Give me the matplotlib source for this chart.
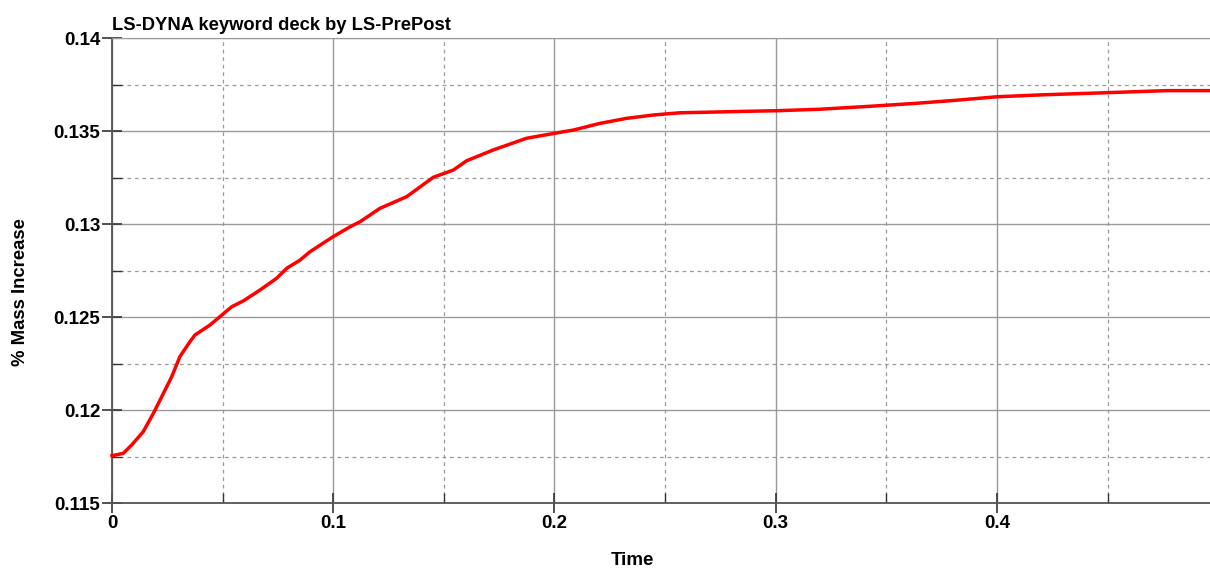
import matplotlib.pyplot as plt
from matplotlib.ticker import MultipleLocator, FuncFormatter

# values
time = [0.0, 0.0051, 0.0089, 0.0141, 0.0187, 0.0225, 0.0270, 0.0307, 0.0352, 0.0375,
        0.0443, 0.0488, 0.0541, 0.0593, 0.0669, 0.0744, 0.0790, 0.0850, 0.0895, 0.1000,
        0.1076, 0.1121, 0.1211, 0.1332, 0.1452, 0.1543, 0.1603, 0.1723, 0.1874, 0.2002,
        0.2085, 0.2206, 0.2326, 0.2447, 0.2567, 0.2688, 0.2869, 0.3004, 0.3200, 0.3441,
        0.3637, 0.3833, 0.3999, 0.4194, 0.4496, 0.4767, 0.4963]
mass_increase = [0.11754, 0.11767, 0.11812, 0.11883, 0.11982, 0.12072, 0.12179, 0.12287,
                 0.12367, 0.12403, 0.12457, 0.12502, 0.12555, 0.12586, 0.12645, 0.12708,
                 0.12762, 0.12806, 0.12851, 0.12932, 0.12985, 0.13012, 0.13084, 0.13147,
                 0.13251, 0.13290, 0.13340, 0.13398, 0.13461, 0.13488, 0.13505, 0.13541,
                 0.13568, 0.13586, 0.13598, 0.13601, 0.13606, 0.13609, 0.13617, 0.13634,
                 0.13649, 0.13667, 0.13684, 0.13694, 0.13706, 0.13717, 0.13717]

title = 'LS-DYNA keyword deck by LS-PrePost'
xlabel = 'Time'
ylabel = '% Mass Increase'

plt.rcParams['font.family'] = ['Liberation Sans', 'DejaVu Sans']
plt.rcParams['font.weight'] = 'bold'

fig = plt.figure(figsize=(12.1, 5.68), dpi=100)
ax = fig.add_axes([112 / 1210, 1 - 503 / 568, 1 - 112 / 1210, (503 - 38) / 568])

ax.plot(time, mass_increase, color='#ff0000', linewidth=2.5, zorder=3, clip_on=False)

ax.set_xlim(0, 0.4963)
ax.set_ylim(0.115, 0.14)

ax.xaxis.set_major_locator(MultipleLocator(0.1))
ax.xaxis.set_minor_locator(MultipleLocator(0.05))
ax.yaxis.set_major_locator(MultipleLocator(0.005))
ax.yaxis.set_minor_locator(MultipleLocator(0.0025))
fmt = FuncFormatter(lambda v, p: '%g' % round(v, 4))
ax.xaxis.set_major_formatter(fmt)
ax.yaxis.set_major_formatter(fmt)

ax.grid(True, which='major', color='#9a9a9a', linestyle='-', linewidth=1.0)
ax.grid(True, which='minor', color='#9a9a9a', linestyle=(0, (3, 3)), linewidth=0.9)

ax.tick_params(which='major', direction='inout', length=15, width=1.2, color='#333333',
               labelsize=13.5, pad=1)
ax.tick_params(which='minor', direction='in', length=7, width=1.0, color='#333333')
for lab in ax.get_xticklabels() + ax.get_yticklabels():
    lab.set_fontweight('bold')

ax.spines['right'].set_visible(False)
ax.spines['top'].set_color('#9a9a9a')
ax.spines['left'].set_color('#555555')
ax.spines['bottom'].set_color('#555555')
ax.spines['left'].set_linewidth(1.3)
ax.spines['bottom'].set_linewidth(1.3)

ax.set_title(title, loc='left', fontsize=13.2, fontweight='bold', pad=6)
ax.set_xlabel(xlabel, fontsize=13.5, fontweight='bold')
ax.set_ylabel(ylabel, fontsize=13.3, fontweight='bold')
ax.xaxis.set_label_coords((632.5 - 112) / 1098, (503 - 552) / 465)
ax.yaxis.set_label_coords((29 - 112) / 1098, (503 - 292.5) / 465)

fig.savefig('out.png', dpi=100)
